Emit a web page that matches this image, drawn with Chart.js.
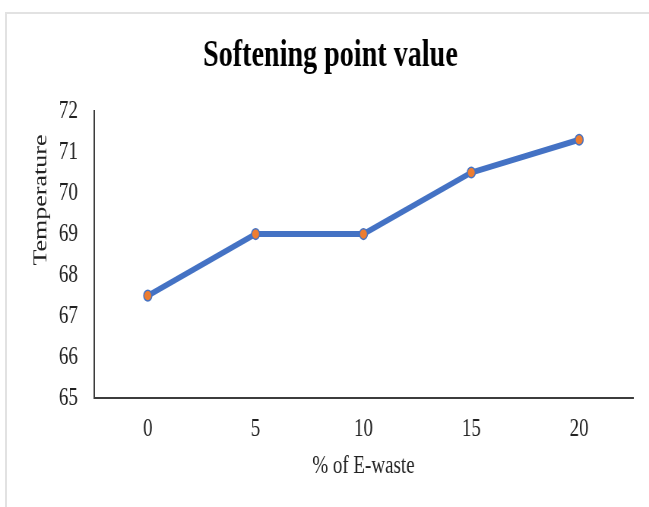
<!DOCTYPE html>
<html>
<head>
<meta charset="utf-8">
<title>Softening point value</title>
<script src="https://cdn.jsdelivr.net/npm/chart.js@4.4.1/dist/chart.umd.min.js"></script>
<style>
  html, body { margin: 0; padding: 0; background: #ffffff; overflow: hidden; }
  #wrap { position: relative; width: 649px; height: 507px; }
  #frame {
    position: absolute; left: 5px; top: 12px; width: 700px; height: 600px;
    border-left: 2px solid #e2e2e2; border-top: 2px solid #e2e2e2;
  }
  /* the drawing surface is wider than its box, giving the narrow lettering */
  #chart { position: absolute; left: 0; top: 0; width: 649px; height: 507px; }
</style>
</head>
<body>
<div id="wrap">
  <div id="frame"></div>
  <canvas id="chart" width="854" height="507" style="width:649px;height:507px"></canvas>
</div>
<script>
const chartTitle = 'Softening point value';
const xAxisTitle = '% of E-waste';
const yAxisTitle = 'Temperature';
const ewastePercent = ['0', '5', '10', '15', '20'];
const softeningPoint = [67.5, 69, 69, 70.5, 71.3];
const yTicks = [65, 66, 67, 68, 69, 70, 71, 72];

const serif = '"Liberation Serif", "Times New Roman", serif';
const axisColor = '#3c3c3c';
const textColor = '#222222';

// Vertical axis caption, set a little above the middle of the value axis
const yCaption = {
  id: 'yCaption',
  afterDraw(chart) {
    const { ctx, chartArea } = chart;
    const yScale = chart.scales.y;
    const cx = yScale.left + 17.5;
    const cy = chartArea.top + (chartArea.bottom - chartArea.top) * 0.31;
    ctx.save();
    ctx.translate(cx, cy);
    ctx.rotate(-Math.PI / 2);
    ctx.font = '26px ' + serif;
    ctx.fillStyle = textColor;
    ctx.textAlign = 'center';
    ctx.textBaseline = 'middle';
    ctx.fillText(yAxisTitle, 0, 0);
    ctx.restore();
  }
};

new Chart(document.getElementById('chart'), {
  type: 'line',
  data: {
    labels: ewastePercent,
    datasets: [{
      data: softeningPoint,
      borderColor: '#4472C4',
      borderWidth: 6,
      backgroundColor: '#ED7D31',
      pointBackgroundColor: '#ED7D31',
      pointBorderColor: '#4472C4',
      pointBorderWidth: 1.5,
      pointRadius: 5.3,
      tension: 0,
      fill: false
    }]
  },
  options: {
    responsive: false,
    devicePixelRatio: 1,
    animation: false,
    layout: { padding: { left: 36.5, right: 21, top: 0, bottom: 25.8 } },
    plugins: {
      legend: { display: false },
      tooltip: { enabled: false },
      title: {
        display: true,
        text: chartTitle,
        color: '#000000',
        font: { family: serif, size: 37, weight: 'bold' },
        padding: { top: 34, bottom: 32.6 }
      }
    },
    scales: {
      x: {
        offset: true,
        grid: { display: false, drawTicks: false },
        border: { display: true, color: axisColor, width: 2 },
        ticks: {
          color: textColor,
          padding: 16,
          maxRotation: 0,
          font: { family: serif, size: 25 }
        },
        title: {
          display: true,
          text: xAxisTitle,
          color: textColor,
          font: { family: serif, size: 25 },
          padding: { top: -9, bottom: 0 }
        }
      },
      y: {
        min: yTicks[0],
        max: yTicks[yTicks.length - 1],
        afterBuildTicks: (axis) => { axis.ticks = yTicks.map(v => ({ value: v })); },
        // room on the left of the value labels for the vertical caption
        afterFit: (axis) => { axis.width += 20; },
        grid: { display: false, drawTicks: false },
        border: { display: true, color: axisColor, width: 2 },
        ticks: {
          color: textColor,
          padding: 21,
          font: { family: serif, size: 25 }
        },
        title: { display: false }
      }
    }
  },
  plugins: [yCaption]
});
</script>
</body>
</html>
